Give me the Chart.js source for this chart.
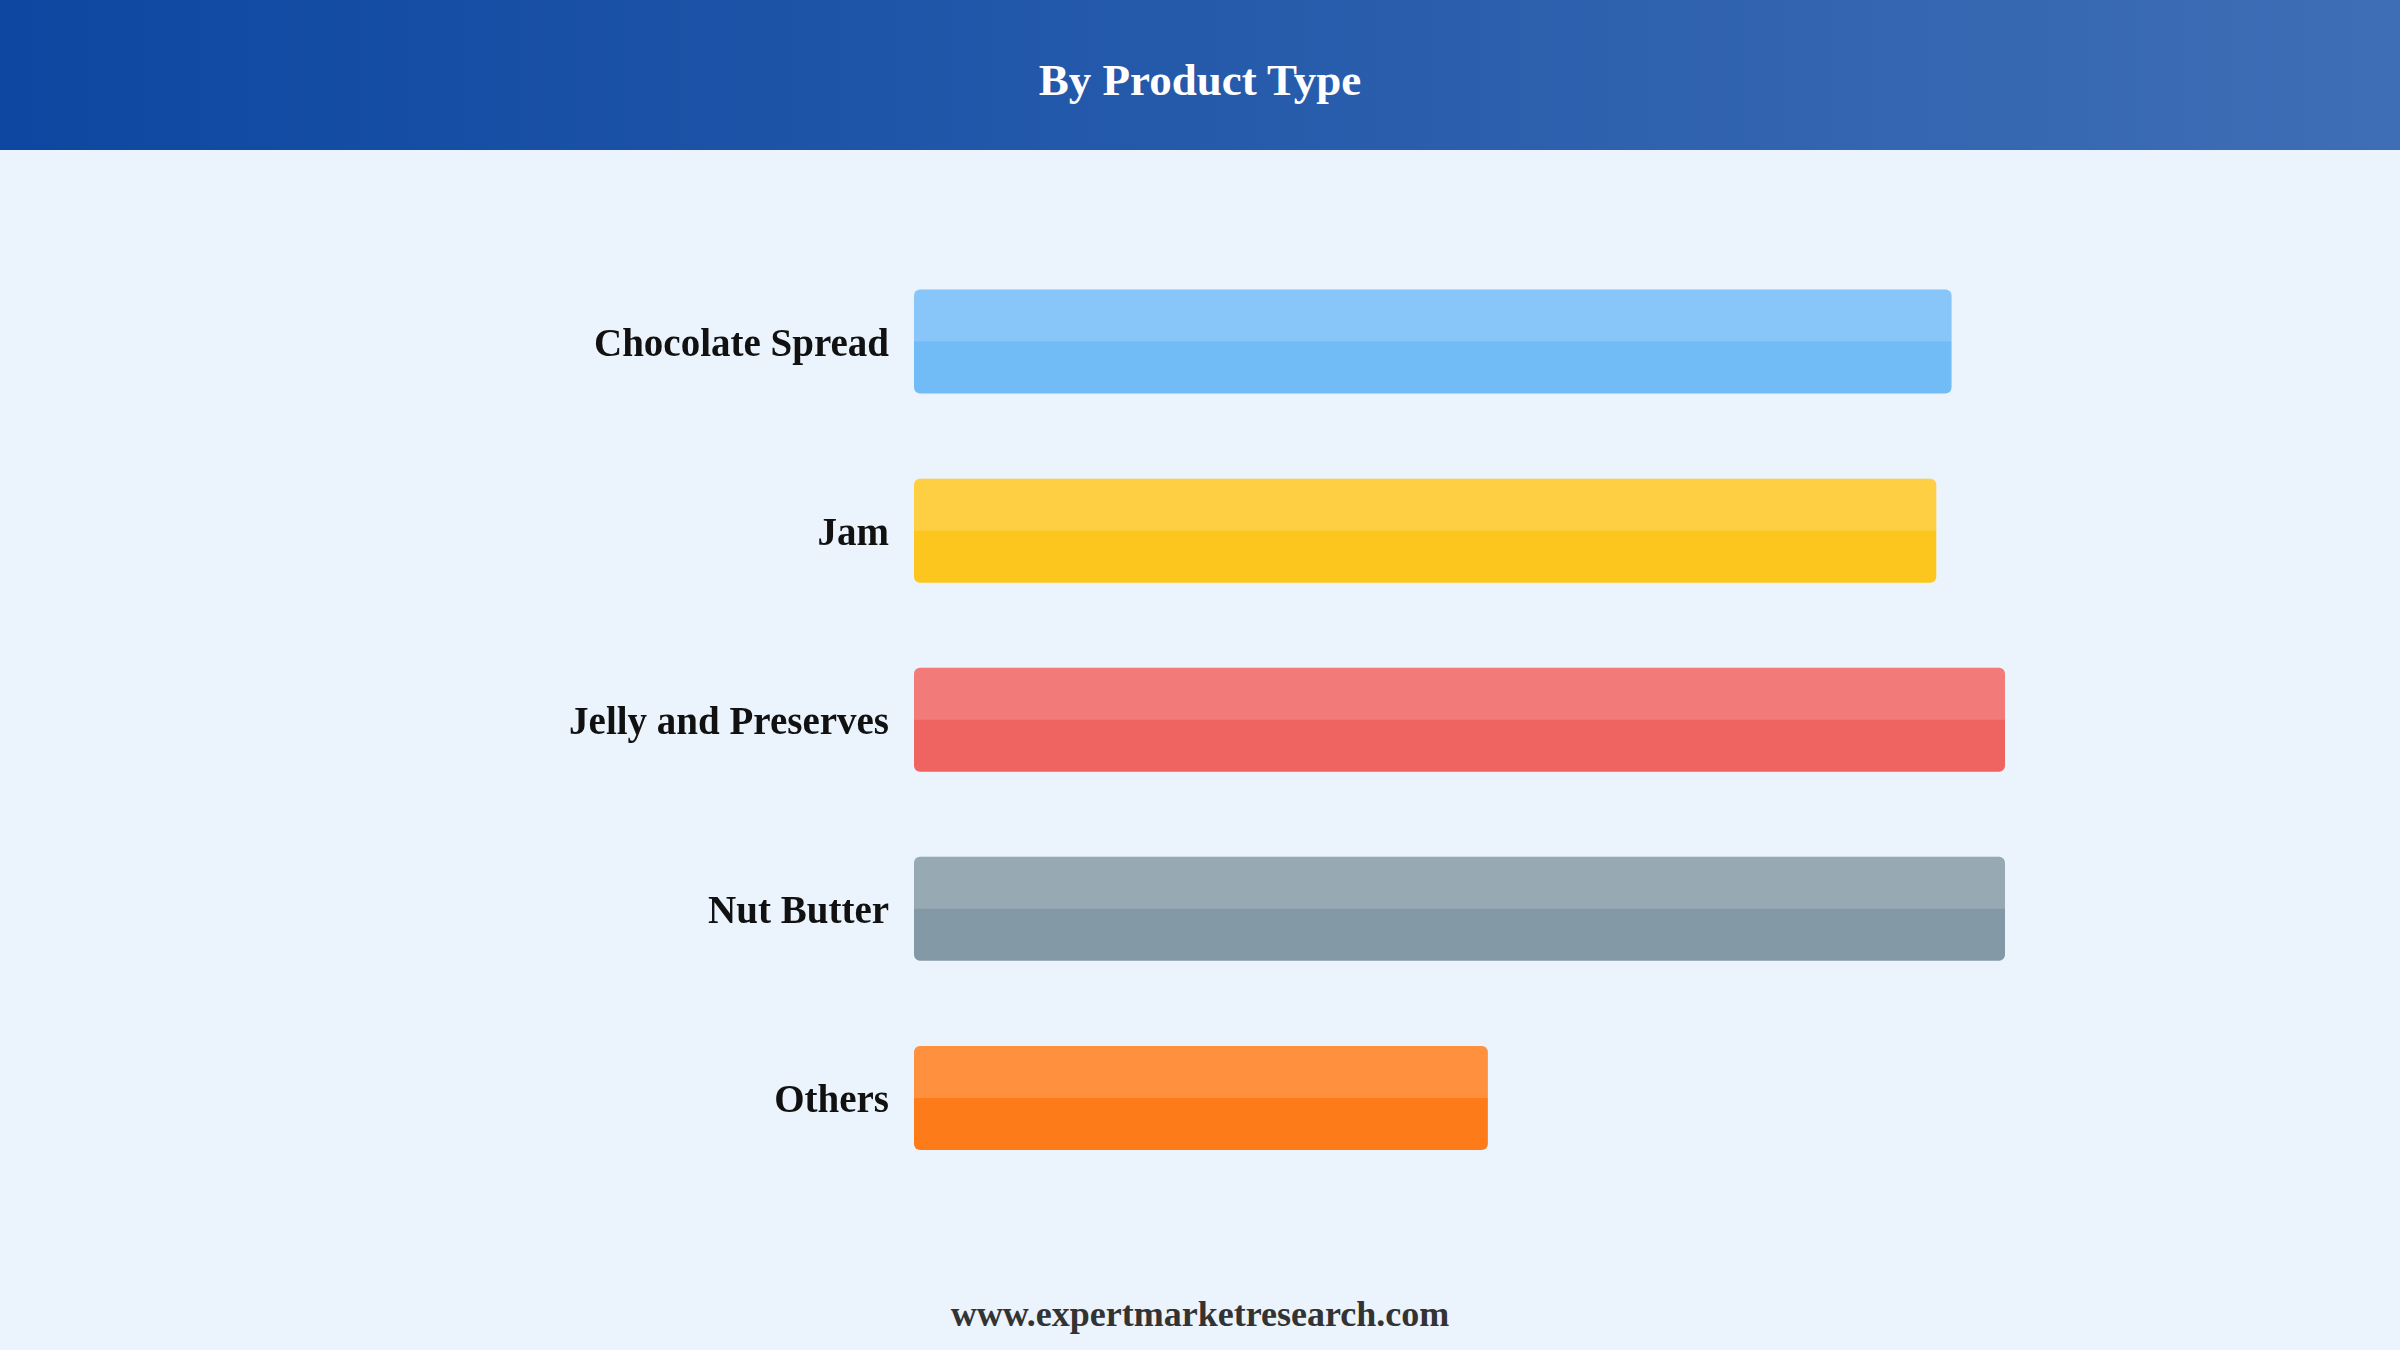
<!DOCTYPE html>
<html>
<head>
<meta charset="utf-8">
<title>By Product Type</title>
<script src="https://cdn.jsdelivr.net/npm/chart.js@4.4.1/dist/chart.umd.min.js"></script>
<style>
  html, body {
    margin: 0;
    padding: 0;
    width: 2400px;
    height: 1350px;
    overflow: hidden;
    background: #EBF3FC;
    font-family: "Liberation Serif", "Times New Roman", serif;
  }
  .header {
    position: absolute;
    left: 0;
    top: 0;
    width: 2400px;
    height: 150px;
    background: linear-gradient(90deg, #0D47A1 0%, #3E6EB5 100%);
  }
  .header h1 {
    margin: 0;
    padding-top: 11px;
    line-height: 139px;
    text-align: center;
    color: #ffffff;
    font-size: 45px;
    font-weight: bold;
  }
  #chart-wrap {
    position: absolute;
    left: 0;
    top: 150px;
    width: 2400px;
    height: 1100px;
  }
  .footer {
    position: absolute;
    left: 0;
    top: 1296px;
    width: 2400px;
    text-align: center;
    font-size: 36px;
    line-height: 36px;
    font-weight: bold;
    color: #333333;
  }
</style>
</head>
<body>
<div class="header"><h1>By Product Type</h1></div>
<div id="chart-wrap"><canvas id="product-chart" width="2400" height="1100"></canvas></div>
<div class="footer">www.expertmarketresearch.com</div>

<script>
// Chart data (relative bar lengths, no axis in the source)
const categories = ['Chocolate Spread', 'Jam', 'Jelly and Preserves', 'Nut Butter', 'Others'];
const shareValues = [95.1, 93.7, 100, 100, 52.6];
const barColors = [
  'rgba(100, 181, 246, 0.9)',
  'rgba(255, 193, 7, 0.9)',
  'rgba(239, 83, 80, 0.9)',
  'rgba(120, 144, 156, 0.9)',
  'rgba(255, 111, 0, 0.9)'
];

// Lighter top half on each bar
const barHighlight = {
  id: 'barHighlight',
  afterDatasetsDraw(chart) {
    const ctx = chart.ctx;
    chart.getDatasetMeta(0).data.forEach(bar => {
      const { x, y, base, height } = bar.getProps(['x', 'y', 'base', 'height'], true);
      const left = Math.min(base, x);
      const width = Math.abs(x - base);
      ctx.save();
      ctx.fillStyle = 'rgba(255, 255, 255, 0.16)';
      ctx.beginPath();
      ctx.roundRect(left, y - height / 2, width, height / 2, [6, 6, 0, 0]);
      ctx.fill();
      ctx.restore();
    });
  }
};

const ctx = document.getElementById('product-chart').getContext('2d');
new Chart(ctx, {
  type: 'bar',
  data: {
    labels: categories,
    datasets: [{
      data: shareValues,
      backgroundColor: barColors,
      borderWidth: 0,
      borderRadius: 6,
      borderSkipped: false,
      categoryPercentage: 1,
      barPercentage: 0.55
    }]
  },
  options: {
    indexAxis: 'y',
    responsive: false,
    animation: false,
    layout: {
      padding: { left: 0, right: 395, top: 97, bottom: 57.5 }
    },
    scales: {
      x: {
        display: false,
        min: 0,
        max: 100
      },
      y: {
        grid: { display: false, drawTicks: false },
        border: { display: false },
        afterFit: (scale) => { scale.width = 914; },
        ticks: {
          padding: 25,
          labelOffset: 4,
          color: '#111111',
          font: { family: '"Liberation Serif", "Times New Roman", serif', size: 39, weight: 'bold' }
        }
      }
    },
    plugins: {
      legend: { display: false },
      tooltip: { enabled: false }
    }
  },
  plugins: [barHighlight]
});
</script>
</body>
</html>
